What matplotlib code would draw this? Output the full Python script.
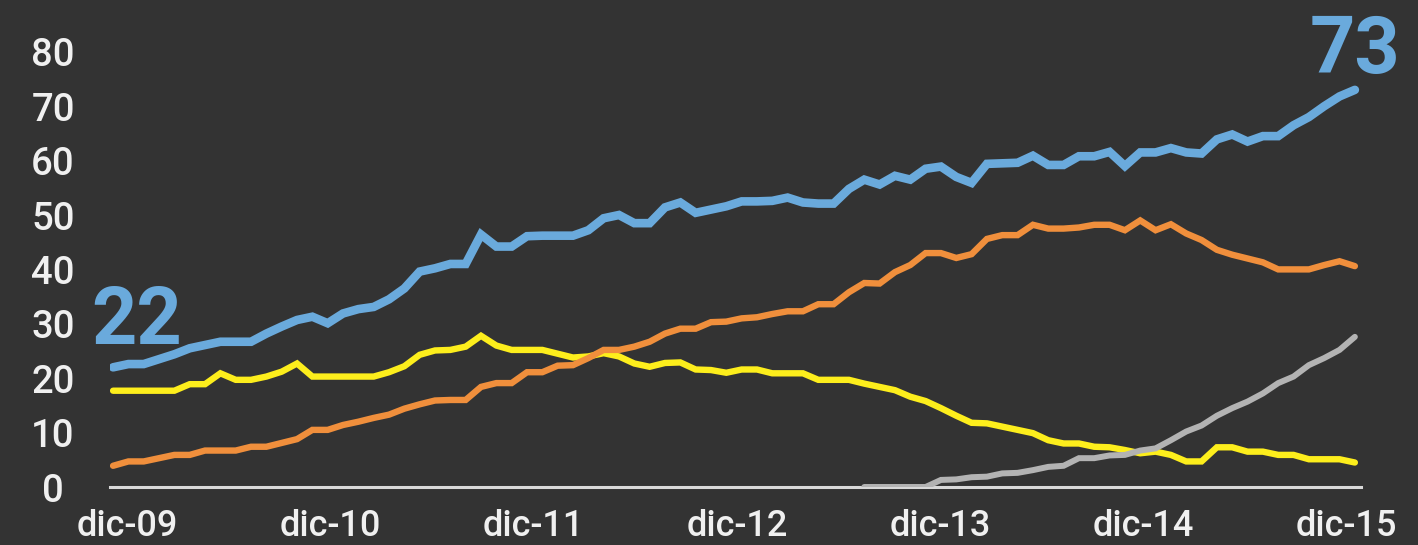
import matplotlib.pyplot as plt
import numpy as np

# monthly-ish poll points, dic-09 .. dic-15
blue = [22, 22.6, 22.6, 23.5, 24.4, 25.5, 26.1, 26.7, 26.7, 26.7,
        28.2, 29.5, 30.7, 31.3, 30.1, 31.9, 32.7, 33.1, 34.5, 36.5,
        39.6, 40.2, 41, 41, 46.4, 44.2, 44.2, 46.1, 46.2, 46.2,
        46.2, 47.2, 49.4, 50, 48.5, 48.5, 51.4, 52.3, 50.4, 51,
        51.6, 52.5, 52.5, 52.6, 53.2, 52.3, 52.1, 52.1, 54.8, 56.5,
        55.6, 57.2, 56.5, 58.5, 58.9, 57, 55.9, 59.4, 59.5, 59.6,
        60.9, 59.2, 59.2, 60.8, 60.8, 61.6, 59, 61.5, 61.5, 62.3,
        61.5, 61.3, 63.9, 64.8, 63.5, 64.5, 64.5, 66.5, 68, 70,
        71.8, 73]
orange = [3.9, 4.7, 4.7, 5.3, 5.9, 5.9, 6.7, 6.7, 6.7, 7.4,
          7.4, 8.1, 8.8, 10.5, 10.5, 11.4, 12, 12.7, 13.3, 14.4,
          15.2, 15.9, 16, 16, 18.4, 19.1, 19.1, 21.1, 21.1, 22.3,
          22.4, 23.7, 25.2, 25.2, 25.8, 26.7, 28.2, 29.1, 29.1, 30.3,
          30.4, 31, 31.2, 31.8, 32.3, 32.3, 33.6, 33.6, 35.8, 37.5,
          37.4, 39.5, 40.8, 43, 43, 42.1, 42.8, 45.6, 46.3, 46.3,
          48.2, 47.5, 47.5, 47.7, 48.2, 48.2, 47.2, 49, 47.2, 48.3,
          46.6, 45.4, 43.6, 42.7, 42, 41.3, 40, 40, 40, 40.8,
          41.5, 40.6]
yellow = [17.7, 17.7, 17.7, 17.7, 17.7, 18.9, 18.9, 20.9, 19.7, 19.7,
          20.3, 21.2, 22.7, 20.3, 20.3, 20.3, 20.3, 20.3, 21.1, 22.2,
          24.3, 25.1, 25.2, 25.8, 27.8, 26, 25.2, 25.2, 25.2, 24.5,
          23.8, 24, 24.6, 24, 22.7, 22.1, 22.8, 22.9, 21.6, 21.5,
          21, 21.6, 21.6, 20.9, 20.9, 20.9, 19.7, 19.7, 19.7, 19,
          18.4, 17.8, 16.6, 15.8, 14.5, 13.1, 11.8, 11.7, 11.1, 10.5,
          9.9, 8.6, 8, 8, 7.4, 7.3, 6.8, 6.2, 6.5, 5.9,
          4.7, 4.7, 7.3, 7.3, 6.5, 6.5, 5.9, 5.9, 5.1, 5.1,
          5.1, 4.5]
gray = [np.nan] * 49 + [0, 0, 0, 0, 0, 1.3, 1.4, 1.8, 1.9, 2.5,
                        2.6, 3.1, 3.7, 3.9, 5.3, 5.3, 5.8, 5.9, 6.7, 7.1,
                        8.6, 10.2, 11.3, 13.1, 14.5, 15.7, 17.2, 19.1, 20.3, 22.4,
                        23.7, 25.2, 27.6]
xlabels = ["dic-09", "dic-10", "dic-11", "dic-12", "dic-13", "dic-14", "dic-15"]

bg = "#333333"
txt = "#f0f0f0"
c_blue = "#6aaadc"
c_orange = "#f08f3c"
c_yellow = "#fdee1c"
c_gray = "#b3b3b3"

plt.rcParams['font.family'] = ['Roboto', 'DejaVu Sans']

fig = plt.figure(figsize=(14.18, 5.45), dpi=100, facecolor=bg)
ax = fig.add_axes([110/1418, 58/545, 1251/1418, 462.4/545])
ax.set_facecolor(bg)

x = np.arange(len(blue))
kw = dict(solid_capstyle="round", solid_joinstyle="miter")
ax.plot(x, yellow, color=c_yellow, lw=4.6, **kw)
ax.plot(x, orange, color=c_orange, lw=4.6, **kw)
ax.plot(x, gray, color=c_gray, lw=4.3, **kw)
ax.plot(x, blue, color=c_blue, lw=6.2, **kw)

ax.set_xlim(-0.2, 81.4)
ax.set_ylim(0, 85)

ax.text(1.55, 26.3, f"{blue[0]:.0f}", color=c_blue, fontsize=57, fontweight="bold",
        ha="center", va="baseline")
ax.text(81, 76.1, f"{blue[-1]:.0f}", color=c_blue, fontsize=57, fontweight="bold",
        ha="center", va="baseline", clip_on=False)

for s in ["top", "right", "left"]:
    ax.spines[s].set_visible(False)
ax.spines["bottom"].set_color("#d9d9d9")
ax.spines["bottom"].set_linewidth(2.2)
ax.spines["bottom"].set_zorder(0.5)

ax.set_yticks(range(0, 81, 10))
ax.tick_params(axis="y", length=0, pad=41, labelsize=27.5, labelcolor=txt)
for lab in ax.get_yticklabels():
    lab.set_ha("center")
    lab.set_fontweight("medium")

ax.set_xticks([0.91 + 13.26 * k for k in range(len(xlabels))])
ax.set_xticklabels(xlabels, fontweight="medium")
ax.tick_params(axis="x", length=0, pad=16, labelsize=26, labelcolor=txt)

fig.savefig("out.png", dpi=100, facecolor=bg)
